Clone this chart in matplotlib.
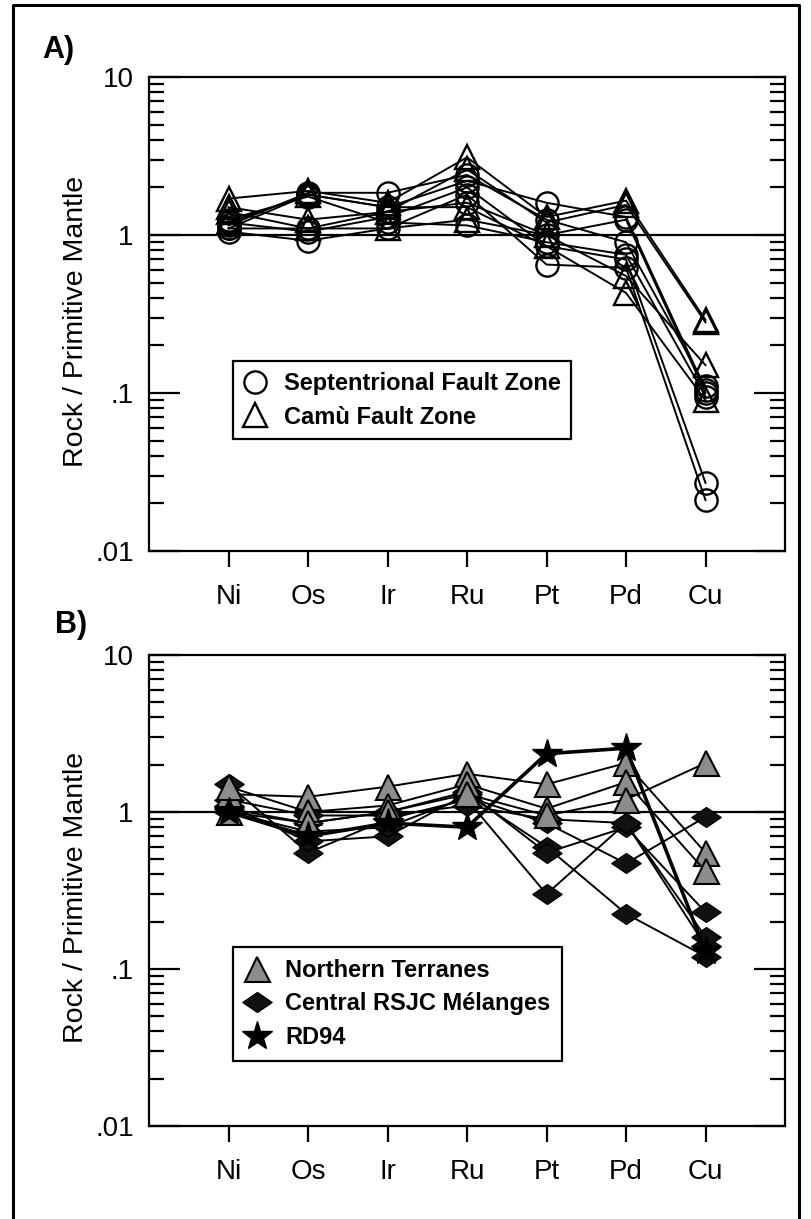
import matplotlib
matplotlib.use('Agg')
import matplotlib.pyplot as plt
from matplotlib.path import Path
from matplotlib.lines import Line2D
from matplotlib.ticker import FixedLocator, NullFormatter

plt.rcParams['font.family'] = ['Liberation Sans', 'DejaVu Sans']

elements = ['Ni', 'Os', 'Ir', 'Ru', 'Pt', 'Pd', 'Cu']
ytick_vals = [0.01, 0.1, 1, 10]
ytick_labels = ['.01', '.1', '1', '10']

# A) Septentrional Fault Zone (open circles)
sept = [
    [1.15, 1.85, 1.85, 2.4, 1.25, 0.9, 0.11],
    [1.1, 1.8, 1.5, 2.2, 1.6, 1.3, 0.105],
    [1.2, 1.05, 1.3, 2.0, 0.85, 0.7, 0.027],
    [1.05, 0.92, 1.1, 1.8, 0.65, 0.62, 0.021],
    [1.25, 1.75, 1.2, 1.15, 0.9, 0.75, 0.095],
    [1.1, 1.1, 1.4, 1.6, 1.0, 1.25, 0.1],
]
# A) Camu Fault Zone (open triangles)
camu = [
    [1.7, 1.9, 1.6, 3.1, 1.3, 1.65, 0.29],
    [1.5, 1.25, 1.4, 2.6, 1.2, 1.55, 0.28],
    [1.4, 1.1, 1.1, 1.25, 1.0, 0.55, 0.15],
    [1.2, 1.8, 1.5, 1.5, 0.85, 0.43, 0.09],
]
# B) Northern Terranes (grey triangles)
northern = [
    [1.3, 1.25, 1.45, 1.75, 1.5, 2.05, 0.55],
    [1.45, 1.0, 1.1, 1.5, 1.05, 1.55, 0.42],
    [1.0, 0.85, 1.0, 1.3, 0.95, 1.2, 2.05],
]
# B) Central RSJC Melanges (diamonds)
central = [
    [1.5, 0.55, 0.9, 1.2, 0.3, 0.85, 0.14],
    [1.1, 0.65, 0.7, 1.3, 0.6, 0.225, 0.12],
    [1.0, 0.75, 0.8, 1.25, 0.85, 0.47, 0.93],
    [1.05, 0.85, 1.0, 1.35, 0.55, 0.8, 0.23],
    [1.2, 0.95, 0.95, 1.1, 0.9, 0.85, 0.16],
]
# B) RD94 (star)
rd94 = [1.0, 0.7, 0.85, 0.8, 2.35, 2.55, 0.13]

# flattened diamond like the original
diamond = Path([(-1, 0), (0, 0.68), (1, 0), (0, -0.68), (-1, 0)],
               [Path.MOVETO, Path.LINETO, Path.LINETO, Path.LINETO, Path.CLOSEPOLY])

W, H = 811, 1219
fig = plt.figure(figsize=(W / 100, H / 100), dpi=100)

def px_axes(left, right, top, bottom):
    return fig.add_axes([left / W, 1 - bottom / H, (right - left) / W, (bottom - top) / H])

axA = px_axes(149, 785, 77, 551)
axB = px_axes(149, 785, 655, 1126)

x = list(range(len(elements)))

def style(ax):
    ax.set_yscale('log')
    ax.set_ylim(0.01, 10)
    ax.set_xlim(-1, 7)
    ax.axhline(1, color='k', lw=1.6, zorder=1)
    ax.yaxis.set_major_locator(FixedLocator(ytick_vals))
    ax.set_yticklabels(ytick_labels)
    minors = [m * 10.0 ** e for e in (-2, -1, 0) for m in range(2, 10)]
    ax.yaxis.set_minor_locator(FixedLocator(minors))
    ax.yaxis.set_minor_formatter(NullFormatter())
    ax.tick_params(axis='y', which='major', direction='in', length=22, width=1.6,
                   left=True, right=True, labelsize=20, pad=11)
    ax.tick_params(axis='y', which='minor', direction='in', length=11, width=1.6,
                   left=True, right=True)
    ax.set_xticks(x)
    ax.set_xticklabels(elements)
    ax.tick_params(axis='x', which='major', direction='out', length=11.5, width=1.6,
                   top=False, labelsize=20, pad=12)
    ax.tick_params(axis='x', which='minor', bottom=False, top=False)
    for s in ax.spines.values():
        s.set_linewidth(1.6)
    ax.set_ylabel('Rock / Primitive Mantle', fontsize=20.5)
    ax.yaxis.set_label_coords(-0.095, 0.485)

style(axA)
style(axB)

# panel A
for row in sept:
    axA.plot(x, row, color='k', lw=1.4, marker='o', ms=16, mfc='none', mec='k', mew=1.7, zorder=3)
for row in camu:
    axA.plot(x, row, color='k', lw=1.4, marker='^', ms=17, mfc='none', mec='k', mew=1.7, zorder=3)

hA = [Line2D([], [], ls='none', marker='o', ms=16, mfc='none', mec='k', mew=1.7),
      Line2D([], [], ls='none', marker='^', ms=17, mfc='none', mec='k', mew=1.7)]
legA = axA.legend(hA, ['Septentrional Fault Zone', 'Camù Fault Zone'],
                  loc='upper left', bbox_to_anchor=(0.132, 0.40), borderaxespad=0,
                  prop={'weight': 'bold', 'size': 17}, fancybox=False, edgecolor='k',
                  framealpha=1, handlelength=1.0, handletextpad=0.7, borderpad=0.45,
                  labelspacing=0.45)
legA.get_frame().set_linewidth(1.6)

# panel B
for row in central:
    axB.plot(x, row, color='k', lw=1.4, marker=diamond, ms=21, mfc='#111111', mec='k', mew=1.0, zorder=3)
for row in northern:
    axB.plot(x, row, color='k', lw=1.4, marker='^', ms=18, mfc='#8c8c8c', mec='k', mew=1.5, zorder=4)
axB.plot(x, rd94, color='k', lw=2.6, marker='*', ms=22, mfc='k', mec='k', mew=1.0, zorder=5)

hB = [Line2D([], [], ls='none', marker='^', ms=18, mfc='#8c8c8c', mec='k', mew=1.5),
      Line2D([], [], ls='none', marker=diamond, ms=21, mfc='#111111', mec='k', mew=1.0),
      Line2D([], [], ls='none', marker='*', ms=22, mfc='k', mec='k')]
legB = axB.legend(hB, ['Northern Terranes', 'Central RSJC Mélanges', 'RD94'],
                  loc='upper left', bbox_to_anchor=(0.132, 0.38), borderaxespad=0,
                  prop={'weight': 'bold', 'size': 17}, fancybox=False, edgecolor='k',
                  framealpha=1, handlelength=1.0, handletextpad=0.7, borderpad=0.5,
                  labelspacing=0.45)
legB.get_frame().set_linewidth(1.6)

# panel letters
fig.text(42 / W, 1 - 50 / H, 'A)', fontsize=22, fontweight='bold', va='center', ha='left')
fig.text(55 / W, 1 - 625 / H, 'B)', fontsize=22, fontweight='bold', va='center', ha='left')

# frame around the figure (left, top, right)
fig.add_artist(Line2D([13 / W, 13 / W, 799 / W, 799 / W], [0, 1 - 5 / H, 1 - 5 / H, 0],
                      transform=fig.transFigure, color='k', lw=2.2))

fig.savefig('out.png', dpi=100)
